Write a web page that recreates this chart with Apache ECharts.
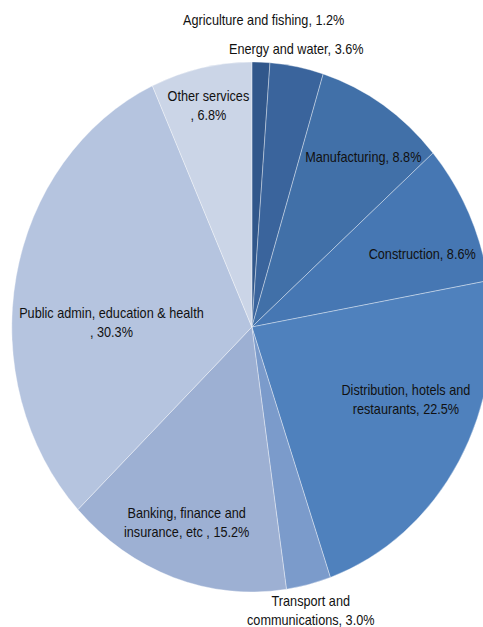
<!DOCTYPE html>
<html>
<head>
<meta charset="utf-8">
<script src="https://cdn.jsdelivr.net/npm/echarts@6/dist/echarts.min.js"></script>
<style>
  html, body { margin: 0; padding: 0; background: #fff; overflow: hidden; }
  #wrap { width: 483px; height: 627px; overflow: hidden; position: relative; }
  #chart { width: 533px; height: 627px; transform: scaleX(0.906); transform-origin: 0 0; }
</style>
</head>
<body>
<div id="wrap"><div id="chart"></div></div>
<script>
// ---- data ----
var categories = [
  'Agriculture and fishing',
  'Energy and water',
  'Manufacturing',
  'Construction',
  'Distribution, hotels and\nrestaurants',
  'Transport and\ncommunications',
  'Banking, finance and\ninsurance, etc ',
  'Public admin, education & health\n',
  'Other services\n'
];
var shares = [1.2, 3.6, 8.8, 8.6, 22.5, 3.0, 15.2, 30.3, 6.8];

// ---- styling / layout (not data) ----
var sliceColors = ['#31578b', '#3a649c', '#4170a8', '#4677b3', '#4f81bd', '#7b9bcb', '#9db0d3', '#b5c4df', '#cbd5e7'];
// label anchor points in chart (unscaled) pixel space
var labelAnchors = [
  [291, 20], [327, 49], [401, 157], [466, 254], [448, 400],
  [343, 611], [206, 523], [123, 323], [230, 106]
];

var chart = echarts.init(document.getElementById('chart'), null, { renderer: 'svg' });
var seriesData = categories.map(function (c, i) {
  return { name: c, value: shares[i], itemStyle: { color: sliceColors[i] } };
});

chart.setOption({
  animation: false,
  series: [{
    type: 'pie',
    center: [278, 327],
    radius: 265,
    startAngle: 90,
    clockwise: true,
    avoidLabelOverlap: false,
    data: seriesData,
    itemStyle: { borderColor: 'rgba(255,255,255,0.55)', borderWidth: 0.7 },
    emphasis: { disabled: true },
    label: {
      show: true,
      position: 'inside',
      formatter: function (p) { return p.name + ', ' + p.value.toFixed(1) + '%'; },
      color: '#111',
      fontFamily: 'Liberation Sans, Arial, sans-serif',
      fontSize: 14,
      lineHeight: 19,
      align: 'center'
    },
    labelLine: { show: false },
    labelLayout: function (params) {
      var a = labelAnchors[params.dataIndex];
      return { x: a[0], y: a[1], align: 'center', verticalAlign: 'middle' };
    }
  }]
});
</script>
</body>
</html>
